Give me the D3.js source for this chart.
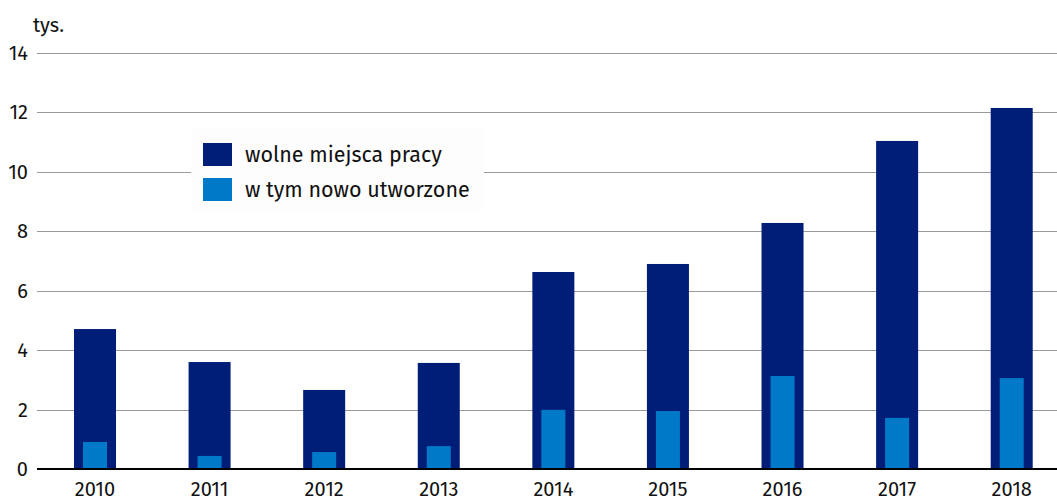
<!DOCTYPE html>
<html lang="pl">
<head>
<meta charset="UTF-8">
<title>Wolne miejsca pracy</title>
<style>
  body { margin: 0; background: #ffffff; }
  svg { display: block; font-family: "Fira Sans", "Noto Sans", sans-serif; }
</style>
</head>
<body>
<svg id="chart" width="1057" height="499"></svg>
<script src="https://d3js.org/d3.v7.min.js"></script>
<script>
// data (thousands)
const years = ["2010", "2011", "2012", "2013", "2014", "2015", "2016", "2017", "2018"];
const vacancies = [4.71, 3.60, 2.66, 3.57, 6.63, 6.90, 8.28, 11.04, 12.15];
const newlyCreated = [0.91, 0.44, 0.57, 0.77, 1.99, 1.95, 3.13, 1.72, 3.06];
const yTicks = [0, 2, 4, 6, 8, 10, 12, 14];
const legendLabels = ["wolne miejsca pracy", "w tym nowo utworzone"];

const colors = { dark: "#001e77", light: "#0079c8" };

const svg = d3.select("#chart");
const W = 1057;
const left = 37, baseY = 469, topY = 53;

const x = d3.scaleBand().domain(years).range([37.7, 1069]).padding(0);
const y = d3.scaleLinear().domain([0, 14]).range([baseY, topY]);

const darkW = 42, lightW = 24;

// gridlines
svg.append("g")
  .selectAll("line")
  .data(yTicks.filter(d => d > 0))
  .join("line")
  .attr("x1", left).attr("x2", W)
  .attr("y1", d => Math.round(y(d)) + 0.5)
  .attr("y2", d => Math.round(y(d)) + 0.5)
  .attr("stroke", "#9a9a9a")
  .attr("stroke-width", 1);

// y tick labels
svg.append("g")
  .selectAll("text")
  .data(yTicks)
  .join("text")
  .attr("x", 28)
  .attr("y", d => y(d) + 7)
  .attr("text-anchor", "end")
  .attr("font-size", 20)
  .attr("fill", "#111")
  .text(d => d);

svg.append("text")
  .attr("x", 33).attr("y", 32)
  .attr("font-size", 20)
  .attr("fill", "#111")
  .text("tys.");

// bars
const bars = svg.append("g");
bars.selectAll("rect.dark")
  .data(years)
  .join("rect")
  .attr("class", "dark")
  .attr("x", d => x(d) + x.bandwidth() / 2 - darkW / 2)
  .attr("width", darkW)
  .attr("y", (d, i) => y(vacancies[i]))
  .attr("height", (d, i) => baseY - y(vacancies[i]))
  .attr("fill", colors.dark);

bars.selectAll("rect.light")
  .data(years)
  .join("rect")
  .attr("class", "light")
  .attr("x", d => x(d) + x.bandwidth() / 2 - lightW / 2)
  .attr("width", lightW)
  .attr("y", (d, i) => y(newlyCreated[i]))
  .attr("height", (d, i) => baseY - y(newlyCreated[i]))
  .attr("fill", colors.light);

// baseline
svg.append("line")
  .attr("x1", left).attr("x2", W)
  .attr("y1", baseY).attr("y2", baseY)
  .attr("stroke", "#000")
  .attr("stroke-width", 2);

// x labels
svg.append("g")
  .selectAll("text")
  .data(years)
  .join("text")
  .attr("x", d => x(d) + x.bandwidth() / 2)
  .attr("y", 496)
  .attr("text-anchor", "middle")
  .attr("font-size", 20)
  .attr("fill", "#111")
  .text(d => d);

// legend
const legend = svg.append("g");
legend.append("rect")
  .attr("x", 191).attr("y", 128)
  .attr("width", 293).attr("height", 82)
  .attr("fill", "#fdfdfd");

const legendColors = [colors.dark, colors.light];
legendLabels.forEach((label, i) => {
  const yy = 143 + i * 35;
  legend.append("rect")
    .attr("x", 203).attr("y", yy)
    .attr("width", 29).attr("height", 23)
    .attr("fill", legendColors[i]);
  legend.append("text")
    .attr("x", 245).attr("y", yy + 19)
    .attr("font-size", 21.5)
    .attr("fill", "#111")
    .text(label);
});
</script>
</body>
</html>
